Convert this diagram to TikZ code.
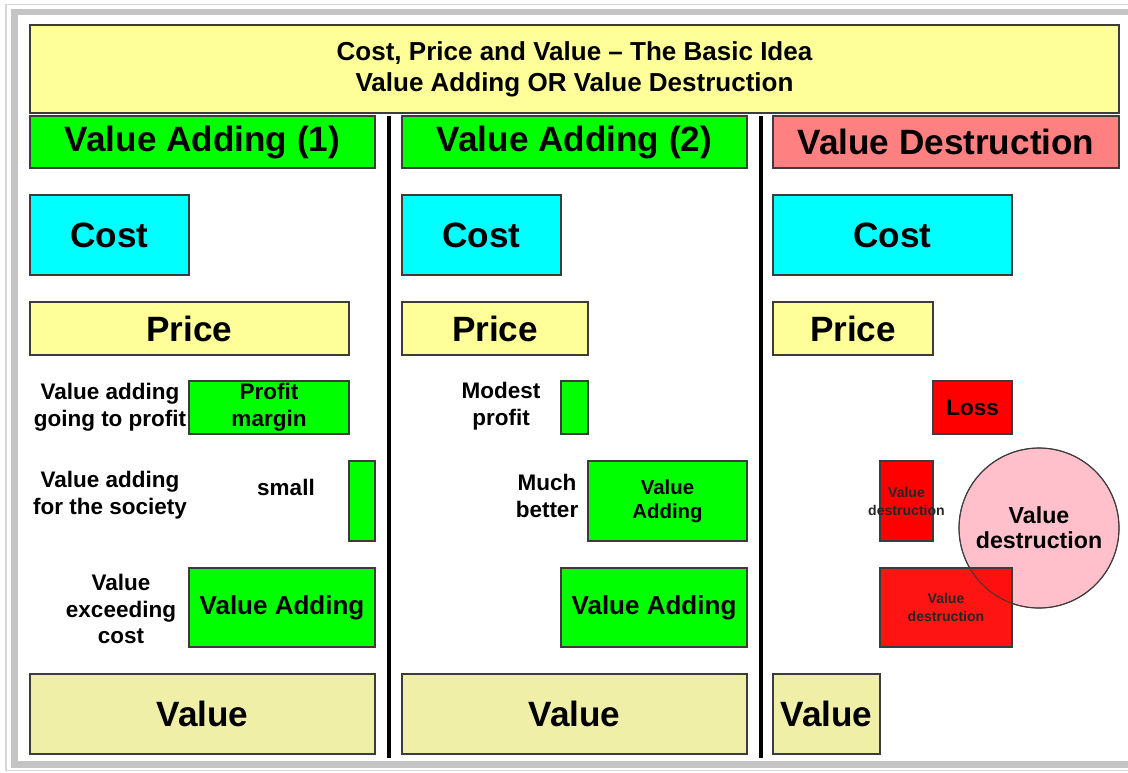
\documentclass[tikz,border=0pt]{standalone}
\usepackage{fontspec}
\setmainfont{Liberation Sans}
\usetikzlibrary{calc}
\definecolor{titleyellow}{HTML}{FFFF99}
\definecolor{valuekhaki}{HTML}{F0EFA8}
\definecolor{addgreen}{HTML}{00FF00}
\definecolor{costcyan}{HTML}{00FFFF}
\definecolor{lossred}{HTML}{FF0000}
\definecolor{headsalmon}{HTML}{FF8080}
\definecolor{circpink}{HTML}{FFC0CB}
\definecolor{edgegrey}{HTML}{3C3C3C}
\definecolor{framegrey}{HTML}{C4C4C4}
\def\cell[#1](#2)(#3)#4[#5]#6{\draw[cellline,#1] (#2) rectangle (#3); \node[#5] (#4) at ($(#2)!0.5!(#3)$) {#6};}

\begin{document}
\begin{tikzpicture}[x=0.025cm, y=-0.025cm,
    cellline/.style={draw=edgegrey, line width=0.8pt},
    titletxt/.style={font=\fontsize{18.5}{22}\selectfont\bfseries, align=center},
    big/.style={font=\fontsize{25}{28}\selectfont\bfseries, align=center},
    mid/.style={font=\fontsize{18.5}{21}\selectfont\bfseries, align=center},
    midsm/.style={font=\fontsize{14.5}{17}\selectfont\bfseries, align=center},
    lbl/.style={font=\fontsize{16}{19}\selectfont\bfseries, align=center},
    tiny/.style={font=\fontsize{10}{12.8}\selectfont\bfseries, align=center, text=black!85},
    circtxt/.style={font=\fontsize{16.5}{18}\selectfont\bfseries, align=center}]
    %%%%% FRAME %%%%%
    \useasboundingbox (0,0) rectangle (1128,772);
    \fill[white] (0,0) rectangle (1128,772);
    \draw[line width=1.2pt, framegrey!70] (6,4.5) rectangle (1140,770.5);
    \draw[line width=4.3pt, framegrey] (14.5,12) rectangle (1140,764.5);

    %%%%% TITLE AND HEADERS %%%%%
    \cell[fill=titleyellow](30,25)(1119,113){title}[titletxt]{Cost, Price and Value -- The Basic Idea\\Value Adding OR Value Destruction}
    \cell[fill=addgreen](30,116)(375,168){headA}[big]{Value Adding (1)}
    \cell[fill=addgreen](402,116)(747,168){headB}[big]{Value Adding (2)}
    \cell[fill=headsalmon](773,116)(1119,168){headC}[big]{Value Destruction}

    \draw[line width=2.8pt] (389,116) -- (389,758);
    \draw[line width=2.8pt] (761,116) -- (761,758);

    %%%%% COLUMN 1 %%%%%
    \cell[fill=costcyan](30,195)(189,275){costA}[big]{Cost}
    \cell[fill=titleyellow](30,302)(349,355){priceA}[big]{Price}
    \cell[fill=addgreen](189,381)(349,434){profitA}[lbl]{Profit\\margin}
    \cell[fill=addgreen](349,461)(375,541){societyA}[lbl]{}
    \cell[fill=addgreen](189,568)(375,647){addA}[mid]{Value Adding}
    \cell[fill=valuekhaki](30,674)(375,754){valueA}[big]{Value}
    \node[lbl] (toprofit) at (110,407) {Value adding\\going to profit};
    \node[lbl] (tosociety) at (110,495) {Value adding\\for the society};
    \node[lbl] (small) at (286,487) {small};
    \node[lbl] (exceed) at (121,609) {Value\\exceeding\\cost};

    %%%%% COLUMN 2 %%%%%
    \cell[fill=costcyan](402,195)(561,275){costB}[big]{Cost}
    \cell[fill=titleyellow](402,302)(588,355){priceB}[big]{Price}
    \cell[fill=addgreen](561,381)(588,434){profitB}[lbl]{}
    \cell[fill=addgreen](588,461)(747,541){societyB}[midsm]{Value\\Adding}
    \cell[fill=addgreen](561,568)(747,647){addB}[mid]{Value Adding}
    \cell[fill=valuekhaki](402,674)(747,754){valueB}[big]{Value}
    \node[lbl] (modest) at (501,406) {Modest\\profit};
    \node[lbl] (better) at (547,496) {Much\\better};

    %%%%% COLUMN 3 %%%%%
    \cell[fill=costcyan](773,195)(1012,275){costC}[big]{Cost}
    \cell[fill=titleyellow](773,302)(933,355){priceC}[big]{Price}
    \cell[fill=lossred](933,381)(1012,434){lossC}[lbl]{Loss}
    \draw[cellline, fill=circpink] (1039,528) circle (80);
    \cell[fill=lossred](880,461)(933,541){destrSmall}[tiny]{Value\\destruction}
    \cell[fill=lossred, fill opacity=0.92](880,568)(1012,647){destrBig}[tiny]{Value\\destruction}
    \draw[edgegrey, line width=0.6pt] (1039,528) circle (80);
    \node[circtxt] (destrCirc) at (1039,528) {Value\\destruction};
    \cell[fill=valuekhaki](773,674)(880,754){valueC}[big]{Value}
\end{tikzpicture}
\end{document}
